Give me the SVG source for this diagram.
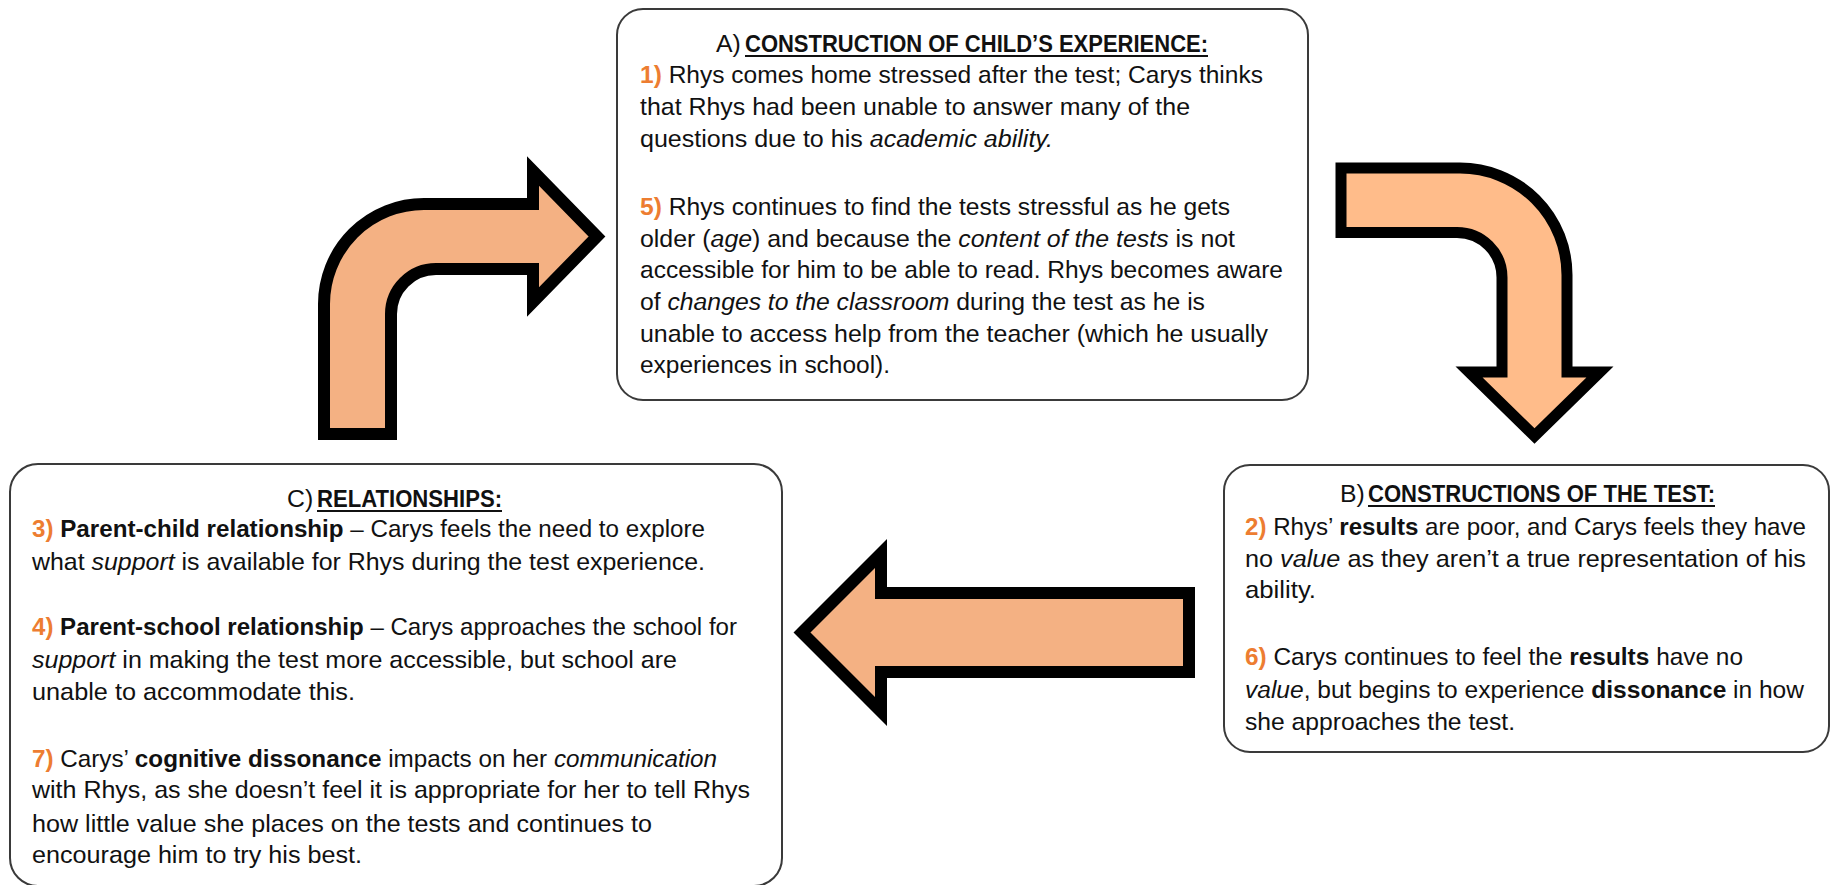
<svg xmlns="http://www.w3.org/2000/svg" width="1832" height="885" viewBox="0 0 1832 885">
<style>
.t{font-family:"Liberation Sans",Arial,sans-serif;font-size:24.8px;fill:#111}
.n{fill:#ED7D31;font-weight:bold}
.b{font-weight:bold}
.i{font-style:italic}
.box{fill:#fff;stroke:#3a3a3a;stroke-width:2}
.ul{stroke:#111;stroke-width:2}
.arr{stroke:#000;stroke-width:12;stroke-linejoin:miter;stroke-miterlimit:10}
</style>
<rect width="1832" height="885" fill="#fff"/>
<g id="connectors">
<path id="arrow-c-to-a" class="arr" fill="#F4B183" d="M 324 434 L 324 304 A 100 100 0 0 1 424 204 L 533 204 L 533 171 L 597 236.5 L 533 302 L 533 269 L 436 269 A 45 45 0 0 0 391 314 L 391 434 Z"/>
<path id="arrow-a-to-b" class="arr" fill="#FFBC8A" style="stroke-width:11" d="M 1341 168 L 1460 168 A 107 107 0 0 1 1567 275 L 1567 372 L 1600 372 L 1534.5 436 L 1469 372 L 1502 372 L 1502 277.5 A 45 45 0 0 0 1457 232.5 L 1341 232.5 Z"/>
<path id="arrow-b-to-c" class="arr" fill="#F4B183" d="M 802 632.5 L 881 553.5 L 881 593 L 1189 593 L 1189 672 L 881 672 L 881 711.5 Z"/>
</g>
<g id="node-a">
<rect class="box" x="617" y="9" width="691" height="391" rx="26"/>
<text class="t" x="716" y="52">A)</text>
<text class="t b" x="745" y="52" textLength="463" lengthAdjust="spacingAndGlyphs">CONSTRUCTION OF CHILD’S EXPERIENCE:</text>
<line class="ul" x1="745" y1="56" x2="1208" y2="56"/>
<text class="t" x="640" y="83" textLength="623" lengthAdjust="spacingAndGlyphs"><tspan class="n">1)</tspan> Rhys comes home stressed after the test; Carys thinks</text>
<text class="t" x="640" y="115" textLength="550" lengthAdjust="spacingAndGlyphs">that Rhys had been unable to answer many of the</text>
<text class="t" x="640" y="147" textLength="413" lengthAdjust="spacingAndGlyphs">questions due to his <tspan class="i">academic ability.</tspan></text>
<text class="t" x="640" y="215" textLength="590" lengthAdjust="spacingAndGlyphs"><tspan class="n">5)</tspan> Rhys continues to find the tests stressful as he gets</text>
<text class="t" x="640" y="247" textLength="595" lengthAdjust="spacingAndGlyphs">older (<tspan class="i">age</tspan>) and because the <tspan class="i">content of the tests</tspan> is not</text>
<text class="t" x="640" y="278" textLength="643" lengthAdjust="spacingAndGlyphs">accessible for him to be able to read. Rhys becomes aware</text>
<text class="t" x="640" y="310" textLength="565" lengthAdjust="spacingAndGlyphs">of <tspan class="i">changes to the classroom</tspan> during the test as he is</text>
<text class="t" x="640" y="342" textLength="628" lengthAdjust="spacingAndGlyphs">unable to access help from the teacher (which he usually</text>
<text class="t" x="640" y="373" textLength="250" lengthAdjust="spacingAndGlyphs">experiences in school).</text>
</g>
<g id="node-b">
<rect class="box" x="1224" y="465" width="605" height="287" rx="26"/>
<text class="t" x="1340" y="502">B)</text>
<text class="t b" x="1368" y="502" textLength="347" lengthAdjust="spacingAndGlyphs">CONSTRUCTIONS OF THE TEST:</text>
<line class="ul" x1="1368" y1="506" x2="1715" y2="506"/>
<text class="t" x="1245" y="535" textLength="561" lengthAdjust="spacingAndGlyphs"><tspan class="n">2)</tspan> Rhys’ <tspan class="b">results</tspan> are poor, and Carys feels they have</text>
<text class="t" x="1245" y="567" textLength="561" lengthAdjust="spacingAndGlyphs">no <tspan class="i">value</tspan> as they aren’t a true representation of his</text>
<text class="t" x="1245" y="598" textLength="71" lengthAdjust="spacingAndGlyphs">ability.</text>
<text class="t" x="1245" y="665" textLength="498" lengthAdjust="spacingAndGlyphs"><tspan class="n">6)</tspan> Carys continues to feel the <tspan class="b">results</tspan> have no</text>
<text class="t" x="1245" y="698" textLength="559" lengthAdjust="spacingAndGlyphs"><tspan class="i">value</tspan>, but begins to experience <tspan class="b">dissonance</tspan> in how</text>
<text class="t" x="1245" y="730" textLength="270" lengthAdjust="spacingAndGlyphs">she approaches the test.</text>
</g>
<g id="node-c">
<rect class="box" x="10" y="464" width="772" height="422" rx="28"/>
<text class="t" x="287" y="507">C)</text>
<text class="t b" x="317" y="507" textLength="185" lengthAdjust="spacingAndGlyphs">RELATIONSHIPS:</text>
<line class="ul" x1="317" y1="511" x2="502" y2="511"/>
<text class="t" x="32" y="537" textLength="673" lengthAdjust="spacingAndGlyphs"><tspan class="n">3)</tspan> <tspan class="b">Parent-child relationship</tspan> – Carys feels the need to explore</text>
<text class="t" x="32" y="570" textLength="673" lengthAdjust="spacingAndGlyphs">what <tspan class="i">support</tspan> is available for Rhys during the test experience.</text>
<text class="t" x="32" y="635" textLength="705" lengthAdjust="spacingAndGlyphs"><tspan class="n">4)</tspan> <tspan class="b">Parent-school relationship</tspan> – Carys approaches the school for</text>
<text class="t" x="32" y="668" textLength="645" lengthAdjust="spacingAndGlyphs"><tspan class="i">support</tspan> in making the test more accessible, but school are</text>
<text class="t" x="32" y="700" textLength="323" lengthAdjust="spacingAndGlyphs">unable to accommodate this.</text>
<text class="t" x="32" y="767" textLength="685" lengthAdjust="spacingAndGlyphs"><tspan class="n">7)</tspan> Carys’ <tspan class="b">cognitive dissonance</tspan> impacts on her <tspan class="i">communication</tspan></text>
<text class="t" x="32" y="798" textLength="718" lengthAdjust="spacingAndGlyphs">with Rhys, as she doesn’t feel it is appropriate for her to tell Rhys</text>
<text class="t" x="32" y="832" textLength="620" lengthAdjust="spacingAndGlyphs">how little value she places on the tests and continues to</text>
<text class="t" x="32" y="863" textLength="330" lengthAdjust="spacingAndGlyphs">encourage him to try his best.</text>
</g>
</svg>
